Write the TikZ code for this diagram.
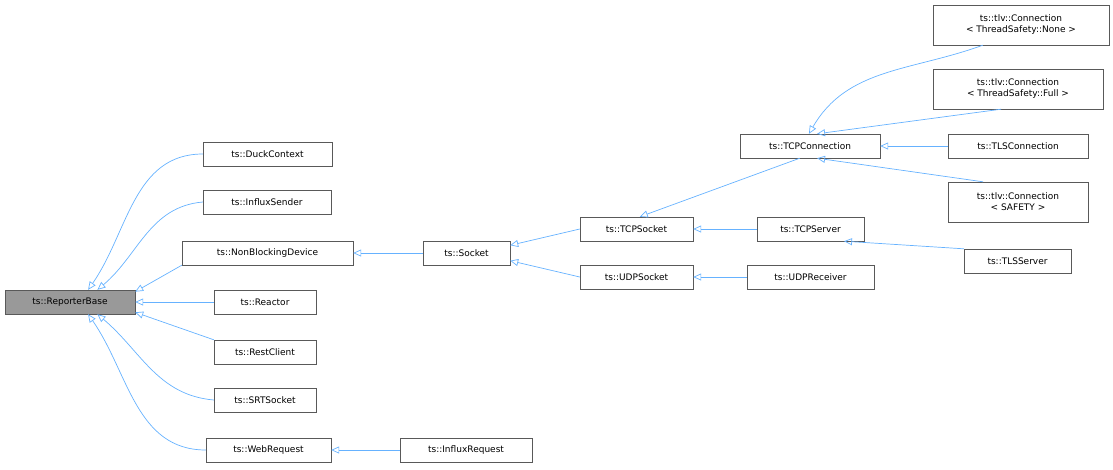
\documentclass[tikz,border=0pt]{standalone}
\usepackage{fontspec}
\setmainfont{DejaVu Sans}
\usetikzlibrary{arrows.meta}
\begin{document}
\begin{tikzpicture}[x=1pt,y=-1pt,
  box/.style={draw=black!65,fill=white,inner sep=0pt,font=\fontsize{9}{11}\selectfont,align=center},
  inh/.style={draw=blue!50!cyan!60!white,line width=0.7pt,-{Triangle[open,length=8pt,width=7pt]}}]
\useasboundingbox (0,0) rectangle (1113,469);
\newcommand{\bx}[6]{\node[box,minimum width=#4-#2,minimum height=#5-#3] (#1) at ({(#2+#4)/2},{(#3+#5)/2}) {#6};}
\bx{rb}{5}{290}{135}{314}{ts::ReporterBase}
\path (rb) node[box,fill=black!40,minimum width=130,minimum height=24] {ts::ReporterBase};
\bx{duck}{203}{142}{332}{166}{ts::DuckContext}
\bx{influx}{203}{190}{331}{214}{ts::InfluxSender}
\bx{nbd}{182}{241}{353}{265}{ts::NonBlockingDevice}
\bx{reactor}{214}{290}{316}{314}{ts::Reactor}
\bx{rest}{214}{340}{316}{364}{ts::RestClient}
\bx{srt}{214}{388}{316}{412}{ts::SRTSocket}
\bx{web}{206}{438}{331}{462}{ts::WebRequest}
\bx{sock}{423}{241}{510}{265}{ts::Socket}
\bx{ireq}{400}{438}{532}{462}{ts::InfluxRequest}
\bx{tcps}{580}{217}{693}{241}{ts::TCPSocket}
\bx{udps}{580}{265}{693}{289}{ts::UDPSocket}
\bx{tcpsrv}{757}{217}{864}{241}{ts::TCPServer}
\bx{udpr}{747}{265}{874}{289}{ts::UDPReceiver}
\bx{tlss}{964}{249}{1071}{273}{ts::TLSServer}
\bx{tcpc}{740}{134}{880}{158}{ts::TCPConnection}
\bx{none}{933}{5}{1109}{45}{ts::tlv::Connection\\< ThreadSafety::None >}
\bx{full}{933}{69}{1103}{109}{ts::tlv::Connection\\< ThreadSafety::Full >}
\bx{tlsc}{948}{134}{1088}{158}{ts::TLSConnection}
\bx{safe}{948}{182}{1088}{222}{ts::tlv::Connection\\< SAFETY >}
\draw[inh] (duck.west) to[out=180,in=55] (rb.34);
\draw[inh] (influx.west) to[out=185,in=40] (rb.24);
\draw[inh] (nbd.south west) -- (rb.9);
\draw[inh] (reactor.west) -- (rb.east);
\draw[inh] (rest.north west) -- (rb.-9);
\draw[inh] (srt.west) to[out=175,in=-40] (rb.-24);
\draw[inh] (web.west) to[out=180,in=-55] (rb.-34);
\draw[inh] (sock.west) -- (nbd.east);
\draw[inh] (ireq.west) -- (web.east);
\draw[inh] (tcps.west) -- (sock.10);
\draw[inh] (udps.west) -- (sock.-10);
\draw[inh] (tcpsrv.west) -- (tcps.east);
\draw[inh] (udpr.west) -- (udps.east);
\draw[inh] (tlss.north west) -- (tcpsrv.-20);
\draw[inh] (tcpc.south) ++(-40,0) coordinate (c1) (tcpc.230) -- (tcps.75);
\draw[inh] (none.south west) ++(50,0) to[out=200,in=60] (tcpc.95);
\draw[inh] (full.230) -- (tcpc.60);
\draw[inh] (tlsc.west) -- (tcpc.east);
\draw[inh] (safe.150) -- (tcpc.-60);
\end{tikzpicture}
\end{document}
